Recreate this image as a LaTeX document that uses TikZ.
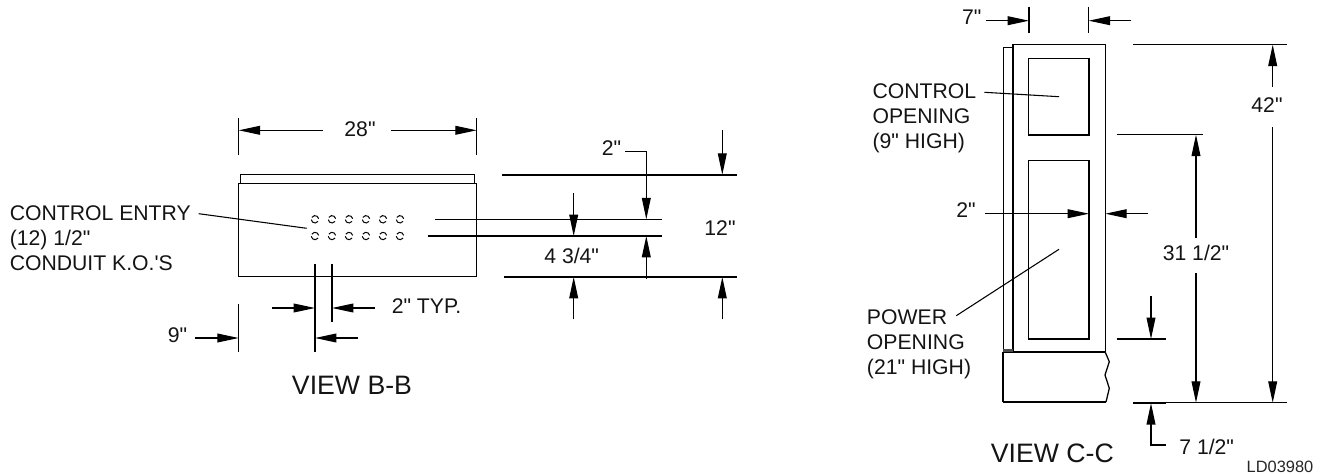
\documentclass[tikz,border=0pt]{standalone}
\usepackage{fontspec}
\setmainfont[Ligatures=TeXOff]{Liberation Sans}
\usetikzlibrary{arrows.meta}
\tikzset{
  part/.style={line width=0.95pt,line join=miter},
  thin line/.style={line width=0.8pt},
  heavy/.style={line width=1.5pt},
  dim/.style={line width=0.85pt,-{Triangle[length=16pt,width=6.6pt]}},
  lbl/.style={inner sep=0pt,font=\fontsize{15.9}{18.9}\selectfont,text=black!92},
  title/.style={inner sep=0pt,font=\fontsize{20}{23}\selectfont,text=black!92},
  code/.style={inner sep=0pt,font=\fontsize{12.3}{14}\selectfont,text=black!85},
  hole/.style={line width=0.75pt}
}
\begin{document}
\begin{tikzpicture}[x=0.75pt,y=-0.75pt]
\path[use as bounding box] (0,0) rectangle (1322,474);
% ---------- VIEW B-B ----------
\draw[part] (238.7,183.7) rectangle (476.7,276.7);
\draw[part] (240.7,183.7) -- (240.7,174.7) -- (474.3,174.7) -- (474.3,183.7);
% holes
\foreach \hx in {315,332,349,366,383,400}{
  \foreach \hy in {219.3,236}{
    \draw[hole] (\hx,\hy) ++(10:3.7 and -3.7) arc[start angle=10,end angle=150,x radius=3.7,y radius=-3.7];
    \draw[hole] (\hx,\hy) ++(185:3.7 and -3.7) arc[start angle=185,end angle=325,x radius=3.7,y radius=-3.7];
  }
}
% 28"
\node[lbl] (d28) at (360,129) {28"};
\draw[thin line] (238.7,118) -- (238.7,155);
\draw[thin line] (476.7,118) -- (476.7,155);
\draw[dim] (323,130.3) -- (238.7,130.3);
\draw[dim] (391,130.3) -- (476.7,130.3);
% control entry
\node[lbl,align=left,anchor=west] (entry) at (9.5,238) {CONTROL ENTRY\\(12) 1/2"\\CONDUIT K.O.'S};
\draw[thin line] (198.7,213.7) -- (306.7,228.3);
% 2" typ
\draw[thin line] (315,264) -- (315,351.7);
\draw[thin line] (332,264) -- (332,322);
\draw[dim] (272,308) -- (315,308);
\draw[dim] (375,308) -- (332,308);
\node[lbl,anchor=west] (typ) at (391.5,306) {2" TYP.};
% 9"
\node[lbl,anchor=west] (d9) at (167.5,335) {9"};
\draw[thin line] (238.7,304.3) -- (238.7,351.7);
\draw[dim] (195,338) -- (238.7,338);
\draw[dim] (357.7,338) -- (315,338);
\node[title] (vb) at (352,385.7) {VIEW B-B};
% right dims
\draw[heavy] (502.3,174.7) -- (737.3,174.7);
\draw[heavy] (504.3,277) -- (737.3,277);
\draw[thin line] (434.7,219.3) -- (661.7,219.3);
\draw[thin line] (427.7,236) -- (661.7,236);
\draw[dim] (573.7,193.3) -- (573.7,236);
\draw[dim] (573.7,319.3) -- (573.7,277);
\node[lbl,anchor=west] (d2a) at (601.5,148.5) {2"};
\draw[dim] (625.3,151.7) -- (646.3,151.7) -- (646.3,219.3);
\draw[dim] (646.3,279) -- (646.3,236);
\draw[dim] (722.3,130) -- (722.3,174.7);
\draw[dim] (722.3,319.3) -- (722.3,277);
\node[lbl] (d434) at (571.7,256) {4 3/4"};
\node[lbl] (d12) at (720,227.7) {12"};
% ---------- VIEW C-C ----------
\draw[part] (1013,352.3) -- (1013,44.7) -- (1105.3,44.7) -- (1105.3,352.3);
\draw[part] (1003.3,350) -- (1003.3,47.3) -- (1013,47.3);
\draw[part] (1028.7,58.3) rectangle (1089,135);
\draw[part] (1028.7,160.3) rectangle (1089,339);
\draw[heavy] (1002.7,352.3) -- (1105.3,352.3);
\draw[line width=1.7pt,black!70] (1003.3,350.4) -- (1013,350.4);
\draw[part] (1002.9,352.3) -- (1002.9,402.2);
\draw[heavy] (1002.7,402) -- (1106,402);
\draw[part] (1105.3,352.3) -- (1109.3,361.7) -- (1105,375) -- (1109.3,388.3) -- (1106,402);
% 7"
\node[lbl] (d7) at (971.7,17.3) {7"};
\draw[thin line] (1029,6.7) -- (1029,33);
\draw[thin line] (1088.7,6.7) -- (1088.7,33);
\draw[dim] (986.3,20.7) -- (1029,20.7);
\draw[dim] (1131.3,20.7) -- (1088.7,20.7);
% control opening
\node[lbl,align=left,anchor=west] (ctl) at (872.3,118) {CONTROL\\OPENING\\(9" HIGH)};
\draw[thin line] (984.3,92.3) -- (1059,96.7);
% 2"
\node[lbl] (d2b) at (966,210) {2"};
\draw[dim] (985,213.7) -- (1089,213.7);
\draw[dim] (1148,213.7) -- (1105.3,213.7);
% power opening
\node[lbl,align=left,anchor=west] (pwr) at (866.7,344.5) {POWER\\OPENING\\(21" HIGH)};
\draw[thin line] (1059,249.3) -- (956.3,315.7);
% horizontal ext lines
\draw[thin line] (1133.3,44.7) -- (1286.7,44.7);
\draw[thin line] (1116.7,134.7) -- (1202.7,134.7);
\draw[thin line] (1116.7,339) -- (1165.7,339);
\draw[thin line] (1133.3,402.7) -- (1287,402.7);
\draw[heavy] (1133.3,402.7) -- (1165.7,402.7);
% 31 1/2
\node[lbl] (d31) at (1196,252.7) {31 1/2"};
\draw[dim] (1196,238) -- (1196,134.7);
\draw[dim] (1196,273.3) -- (1196,402.7);
% 42
\node[lbl] (d42) at (1267,105) {42"};
\draw[dim] (1272.7,86.7) -- (1272.7,44.7);
\draw[dim] (1272.7,127.3) -- (1272.7,402.7);
% 7 1/2
\draw[dim] (1151,296) -- (1151,339);
\draw[dim] (1165.7,445) -- (1151,445) -- (1151,403.2);
\node[lbl] (d712) at (1206.7,446.7) {7 1/2"};
\node[title] (vc) at (1052.3,453.3) {VIEW C-C};
\node[code] (ld) at (1280,466.7) {LD03980};
\end{tikzpicture}
\end{document}
